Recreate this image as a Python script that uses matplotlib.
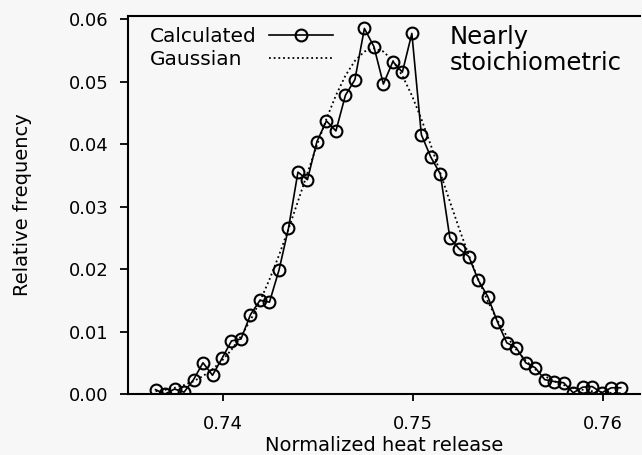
import matplotlib
matplotlib.use("Agg")
import matplotlib.pyplot as plt

plt.rcParams['font.family'] = ['DejaVu Sans']

heat_release = [0.73645, 0.73695, 0.73745, 0.73795, 0.73845, 0.73895, 0.73945, 0.73995,
                0.74045, 0.74095, 0.74145, 0.74195, 0.74245, 0.74295, 0.74345, 0.74395,
                0.74445, 0.74495, 0.74545, 0.74595, 0.74645, 0.74695, 0.74745, 0.74795,
                0.74845, 0.74895, 0.74945, 0.74995, 0.75045, 0.75095, 0.75145, 0.75195,
                0.75245, 0.75295, 0.75345, 0.75395, 0.75445, 0.75495, 0.75545, 0.75595,
                0.75645, 0.75695, 0.75745, 0.75795, 0.75845, 0.75895, 0.75945, 0.75995,
                0.76045, 0.76095]

calculated = [0.0007, 0.0000, 0.0008, 0.0003, 0.0023, 0.0050, 0.0030, 0.0057,
              0.0085, 0.0088, 0.0127, 0.0150, 0.0147, 0.0198, 0.0265, 0.0355,
              0.0343, 0.0404, 0.0437, 0.0421, 0.0478, 0.0503, 0.0585, 0.0556,
              0.0496, 0.0532, 0.0515, 0.0577, 0.0415, 0.0379, 0.0352, 0.0250,
              0.0232, 0.0220, 0.0182, 0.0156, 0.0116, 0.0082, 0.0074, 0.0050,
              0.0042, 0.0023, 0.0020, 0.0018, 0.0002, 0.0011, 0.0012, 0.0002,
              0.0010, 0.0010]

gaussian = [0.00044, 0.00067, 0.00099, 0.00143, 0.00205, 0.00287, 0.00395, 0.00534,
            0.00709, 0.00924, 0.01182, 0.01485, 0.01832, 0.02219, 0.02639, 0.03083,
            0.03535, 0.03981, 0.04401, 0.04778, 0.05094, 0.05332, 0.05480, 0.05530,
            0.05480, 0.05332, 0.05094, 0.04778, 0.04401, 0.03981, 0.03535, 0.03083,
            0.02639, 0.02219, 0.01832, 0.01485, 0.01182, 0.00924, 0.00709, 0.00534,
            0.00395, 0.00287, 0.00205, 0.00143, 0.00099, 0.00067, 0.00044, 0.00029,
            0.00018, 0.00012]

x_ticks = [0.74, 0.75, 0.76]
x_tick_labels = ["0.74", "0.75", "0.76"]
y_ticks = [0.00, 0.01, 0.02, 0.03, 0.04, 0.05, 0.06]
y_tick_labels = ["0.00", "0.01", "0.02", "0.03", "0.04", "0.05", "0.06"]
series_labels = ["Calculated", "Gaussian"]

bg = '#f7f7f7'
fig = plt.figure(figsize=(6.42, 4.55), dpi=100, facecolor=bg)
ax = fig.add_axes([0.1994, 0.134, 0.797, 0.831], facecolor=bg)

l_gauss, = ax.plot(heat_release, gaussian, linestyle=(0, (1, 1.6)), color='black', lw=1.3,
                   zorder=2)
l_calc, = ax.plot(heat_release, calculated, color='black', lw=1.2, marker='o', markersize=8.5,
                  markerfacecolor='none', markeredgecolor='black', markeredgewidth=1.5,
                  zorder=3)

ax.set_xlim(0.735, 0.76195)
ax.set_ylim(0.0, 0.0605)
ax.set_xticks(x_ticks)
ax.set_xticklabels(x_tick_labels, fontsize=13)
ax.set_yticks(y_ticks)
ax.set_yticklabels(y_tick_labels, fontsize=13)
ax.tick_params(axis='x', which='major', direction='out', length=5, width=1.3, pad=10)
ax.tick_params(axis='y', which='major', direction='out', length=6, width=1.3, pad=8)

ax.spines['right'].set_visible(False)
for s in ['left', 'bottom', 'top']:
    ax.spines[s].set_linewidth(1.5)

ax.set_xlabel('Normalized heat release', fontsize=14)
ax.set_ylabel('Relative frequency', fontsize=14)
ax.xaxis.set_label_coords(0.5, -0.112)
ax.yaxis.set_label_coords(-0.188, 0.5)

# legend: left-aligned labels, handles aligned in a column to the right
blank = plt.Line2D([], [], linestyle='none', marker='none')
leg_text = ax.legend([blank, blank], series_labels, loc='upper left',
                     bbox_to_anchor=(0.043, 0.971), frameon=False, fontsize=14.5,
                     handlelength=0, handletextpad=0, labelspacing=0.2,
                     borderpad=0, borderaxespad=0)
ax.add_artist(leg_text)
ax.legend([l_calc, l_gauss], ['', ''], loc='upper left',
          bbox_to_anchor=(0.275, 0.971), frameon=False, fontsize=14.5,
          handlelength=3.2, handletextpad=0, labelspacing=0.2,
          borderpad=0, borderaxespad=0)

ax.text(0.628, 0.977, 'Nearly\nstoichiometric', transform=ax.transAxes,
        fontsize=17.5, va='top', ha='left', linespacing=1.1)

fig.savefig('out.png', dpi=100, facecolor=bg)
